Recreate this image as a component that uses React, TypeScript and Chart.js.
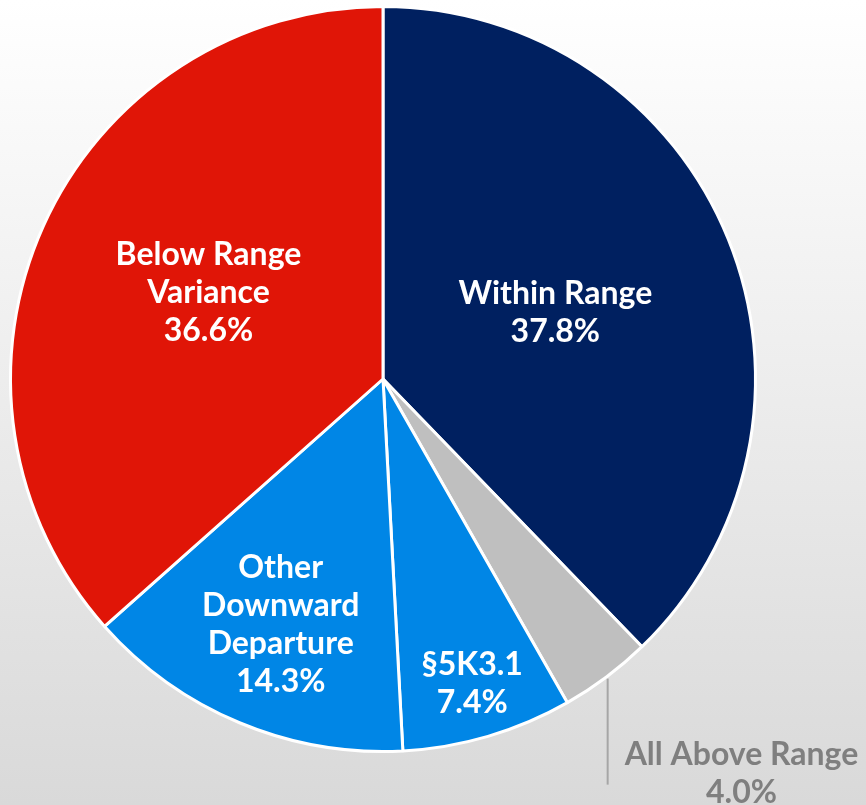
import React, { useEffect, useRef } from "react";
import { Chart, registerables } from "chart.js";

Chart.register(...registerables);

// ---- data ----
const categories = [
  "Within Range",
  "All Above Range",
  "§5K3.1",
  "Other Downward Departure",
  "Below Range Variance",
];
const labelLines = [
  ["Within Range"],
  ["All Above Range"],
  ["§5K3.1"],
  ["Other", "Downward", "Departure"],
  ["Below Range", "Variance"],
];
const values = [37.8, 4.0, 7.4, 14.3, 36.6];
const colors = ["#002060", "#BFBFBF", "#0086E6", "#0086E6", "#E01507"];
// label placement (fraction of radius; 0 = outside with leader line) and angle tweak (deg)
const labelRadial = [0.496, 0, 0.85, 0.713, 0.523];
const labelAngleShift = [0.9, 0, 0, 0, 2.2];

const W = 866;
const H = 805;

const labelPlugin = {
  id: "sliceLabels",
  afterDatasetsDraw(chart: any) {
    const ctx = chart.ctx as CanvasRenderingContext2D;
    const meta = chart.getDatasetMeta(0);
    meta.data.forEach((arc: any, i: number) => {
      const { x, y, startAngle, endAngle, outerRadius } = arc.getProps(
        ["x", "y", "startAngle", "endAngle", "outerRadius"],
        true
      );
      const mid = (startAngle + endAngle) / 2 + (labelAngleShift[i] * Math.PI) / 180;
      const lines = [...labelLines[i], values[i].toFixed(1) + "%"];
      const lh = 38;
      ctx.save();
      if (labelRadial[i] === 0) {
        const ex = x + Math.cos(mid) * (outerRadius + 2);
        const ey = y + Math.sin(mid) * (outerRadius + 2);
        ctx.strokeStyle = "#A6A6A6";
        ctx.lineWidth = 2;
        ctx.beginPath();
        ctx.moveTo(ex, ey);
        ctx.lineTo(ex, ey + 106);
        ctx.stroke();
        ctx.font = "bold 32px Lato";
        ctx.fillStyle = "#7F7F7F";
        ctx.textAlign = "center";
        ctx.textBaseline = "alphabetic";
        const w = ctx.measureText(lines[0]).width;
        const cx = ex + 17 + w / 2;
        lines.forEach((t, k) => ctx.fillText(t, cx, ey + 86 + k * lh));
      } else {
        const f = labelRadial[i];
        const cx = x + Math.cos(mid) * outerRadius * f;
        const cy = y + Math.sin(mid) * outerRadius * f;
        ctx.font = "bold 32px Lato";
        ctx.fillStyle = "#FFFFFF";
        ctx.textAlign = "center";
        ctx.textBaseline = "alphabetic";
        const n = lines.length;
        lines.forEach((t, k) =>
          ctx.fillText(t, cx, cy + (k - (n - 1) / 2) * lh + 11)
        );
      }
      ctx.restore();
    });
  },
};

export default function App() {
  const ref = useRef<HTMLCanvasElement | null>(null);
  useEffect(() => {
    if (!ref.current) return;
    const chart = new Chart(ref.current, {
      type: "pie",
      data: {
        labels: categories,
        datasets: [
          {
            data: values,
            backgroundColor: colors,
            borderColor: "#FFFFFF",
            borderWidth: 3,
          },
        ],
      },
      options: {
        responsive: false,
        animation: false,
        layout: { padding: { left: 9, top: 5, right: 109, bottom: 52 } },
        plugins: {
          legend: { display: false },
          tooltip: { enabled: false },
        },
      },
      plugins: [labelPlugin],
    });
    return () => chart.destroy();
  }, []);
  return (
    <div
      style={{
        position: "fixed",
        left: 0,
        top: 0,
        width: W,
        height: H,
        background: "linear-gradient(to bottom, #FFFFFF 0%, #D9D9D9 100%)",
      }}
    >
      <canvas ref={ref} width={W} height={H} style={{ width: W, height: H, display: "block" }} />
    </div>
  );
}
